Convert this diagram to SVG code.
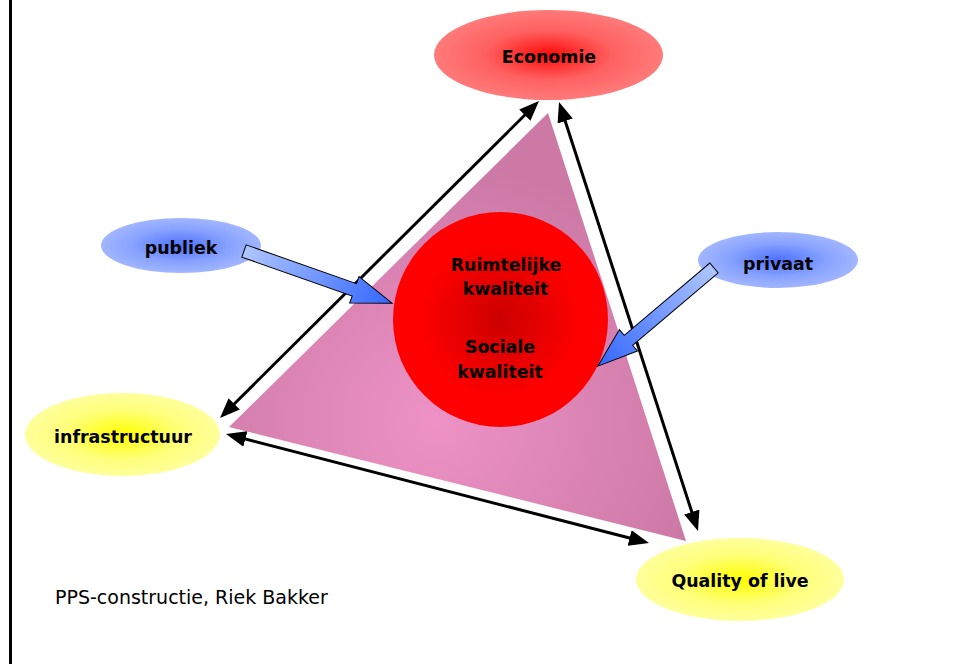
<svg xmlns="http://www.w3.org/2000/svg" width="964" height="664" viewBox="0 0 964 664">
<defs>
<style>
.lbl{font-family:"DejaVu Sans","Liberation Sans",sans-serif;font-weight:bold;font-size:17.4px;fill:#000;text-anchor:middle}
.cap{font-family:"DejaVu Sans","Liberation Sans",sans-serif;font-size:19px;fill:#000}
.conn{stroke:#000;stroke-width:3;fill:none;marker-start:url(#ah);marker-end:url(#ah)}
.blk{stroke:#000;stroke-width:1;fill:url(#gBlk)}
</style>
<marker id="ah" markerUnits="userSpaceOnUse" markerWidth="20" markerHeight="16" refX="10" refY="8" orient="auto-start-reverse" viewBox="0 0 20 16">
<path d="M0,0 L20,8 L0,16 z" fill="#000"/>
</marker>
<radialGradient id="gRed" cx="0.5" cy="0.5" r="0.5">
<stop offset="0" stop-color="#FF0A0A"/>
<stop offset="0.55" stop-color="#FF6060"/>
<stop offset="1" stop-color="#FF7A7A"/>
</radialGradient>
<radialGradient id="gBlue" cx="0.5" cy="0.5" r="0.5">
<stop offset="0" stop-color="#4F70FF"/>
<stop offset="0.6" stop-color="#87A2FF"/>
<stop offset="1" stop-color="#A2B6FF"/>
</radialGradient>
<radialGradient id="gYel" cx="0.5" cy="0.5" r="0.5">
<stop offset="0" stop-color="#FFFF00"/>
<stop offset="0.6" stop-color="#FFFF7A"/>
<stop offset="1" stop-color="#FFFF9C"/>
</radialGradient>
<radialGradient id="gTri" cx="0.45" cy="0.72" r="0.6">
<stop offset="0" stop-color="#EE92C6"/>
<stop offset="1" stop-color="#CC79A6"/>
</radialGradient>
<radialGradient id="gCirc" cx="0.5" cy="0.5" r="0.5">
<stop offset="0" stop-color="#CC0000"/>
<stop offset="0.75" stop-color="#FF0000"/>
<stop offset="1" stop-color="#FF0000"/>
</radialGradient>
<linearGradient id="gBlk" x1="0" y1="0" x2="1" y2="0">
<stop offset="0" stop-color="#AFC6FF"/>
<stop offset="1" stop-color="#3366FF"/>
</linearGradient>
</defs>
<rect width="964" height="664" fill="#fff"/>
<line x1="10.5" y1="0" x2="10.5" y2="664" stroke="#000" stroke-width="3"/>

<g id="triangle">
<polygon points="548,113 229,427 686,541" fill="url(#gTri)"/>
</g>

<g id="connectors">
<line class="conn" x1="227.1" y1="411.0" x2="531.9" y2="108.0"/>
<line class="conn" x1="562.1" y1="111.5" x2="694.9" y2="521.5"/>
<line class="conn" x1="235.7" y1="436.5" x2="639.3" y2="540.5"/>
</g>

<g id="economie">
<ellipse cx="548.5" cy="55" rx="114.5" ry="45" fill="url(#gRed)"/>
<text class="lbl" x="549" y="63">Economie</text>
</g>

<g id="infrastructuur">
<ellipse cx="122.5" cy="434.5" rx="97.5" ry="41.5" fill="url(#gYel)"/>
<text class="lbl" x="123" y="443">infrastructuur</text>
</g>

<g id="quality">
<ellipse cx="740" cy="579.5" rx="104" ry="41.5" fill="url(#gYel)"/>
<text class="lbl" x="740" y="587">Quality of live</text>
</g>

<g id="kwaliteit">
<circle cx="500.5" cy="319.5" r="107.5" fill="url(#gCirc)"/>
<text class="lbl" x="506" y="271">Ruimtelijke</text>
<text class="lbl" x="505.5" y="295">kwaliteit</text>
<text class="lbl" x="500" y="353">Sociale</text>
<text class="lbl" x="500" y="378">kwaliteit</text>
</g>

<g id="publiek">
<ellipse cx="181" cy="245.5" rx="80" ry="27.5" fill="url(#gBlue)"/>
<text class="lbl" x="181" y="254">publiek</text>
</g>

<g id="privaat">
<ellipse cx="778" cy="260" rx="80" ry="28" fill="url(#gBlue)"/>
<text class="lbl" x="778" y="270">privaat</text>
</g>

<g id="block-arrows">
<path class="blk" transform="translate(244,251) rotate(19.4)" d="M0,-6.5 L117,-6.5 L117,-14 L157,0 L117,14 L117,6.5 L0,6.5 Z"/>
<path class="blk" transform="translate(714,268) rotate(139.8)" d="M0,-6.5 L112,-6.5 L112,-14 L152,0 L112,14 L112,6.5 L0,6.5 Z"/>
</g>

<g id="caption">
<text class="cap" x="55" y="604">PPS-constructie, Riek Bakker</text>
</g>
</svg>
